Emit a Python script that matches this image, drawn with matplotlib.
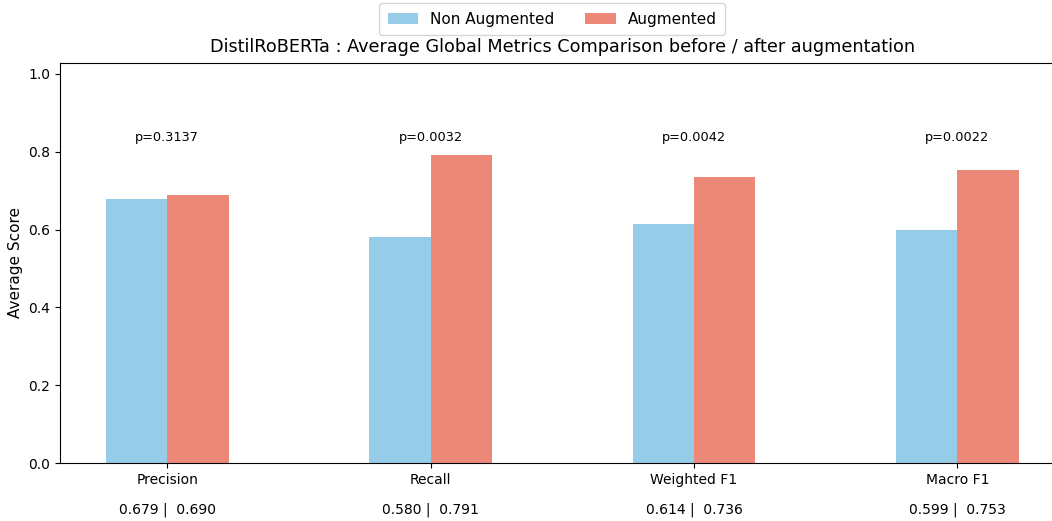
import numpy as np
import matplotlib.pyplot as plt

# Data
metrics = ['Precision', 'Recall', 'Weighted F1', 'Macro F1']
non_aug = [0.679, 0.580, 0.614, 0.599]
aug = [0.690, 0.791, 0.736, 0.753]
p_values = [0.3137, 0.0032, 0.0042, 0.0022]

x = np.arange(len(metrics)) * 1.5
width = 0.35

fig = plt.figure(figsize=(10.52, 5.21), dpi=100)
ax = fig.add_axes([0.057, 0.1113, 0.955, 0.768])

ax.bar(x - width / 2, non_aug, width, color='#97CCE8', label='Non Augmented')
ax.bar(x + width / 2, aug, width, color='#EB8878', label='Augmented')

ymax = max(aug) * 1.3
ax.set_ylim(0, ymax)
ax.set_xticks(x)
ax.set_xticklabels(metrics, fontsize=10)
ax.set_ylabel('Average Score', fontsize=11)
ax.set_title('DistilRoBERTa : Average Global Metrics Comparison before / after augmentation',
             fontsize=12.7, pad=8)

# p-values above each group
for xi, p in zip(x, p_values):
    ax.text(xi, 0.82, f'p={p:.4f}', ha='center', va='bottom', fontsize=9.3)

# values under the tick labels
for xi, a, b in zip(x, non_aug, aug):
    ax.text(xi, -0.12, f'{a:.3f} |  {b:.3f}', ha='center', va='center', fontsize=10)

ax.legend(loc='lower center', bbox_to_anchor=(0.49, 1.05), ncol=2, fontsize=11,
          borderpad=0.55)

fig.savefig('out.png', dpi=100)
